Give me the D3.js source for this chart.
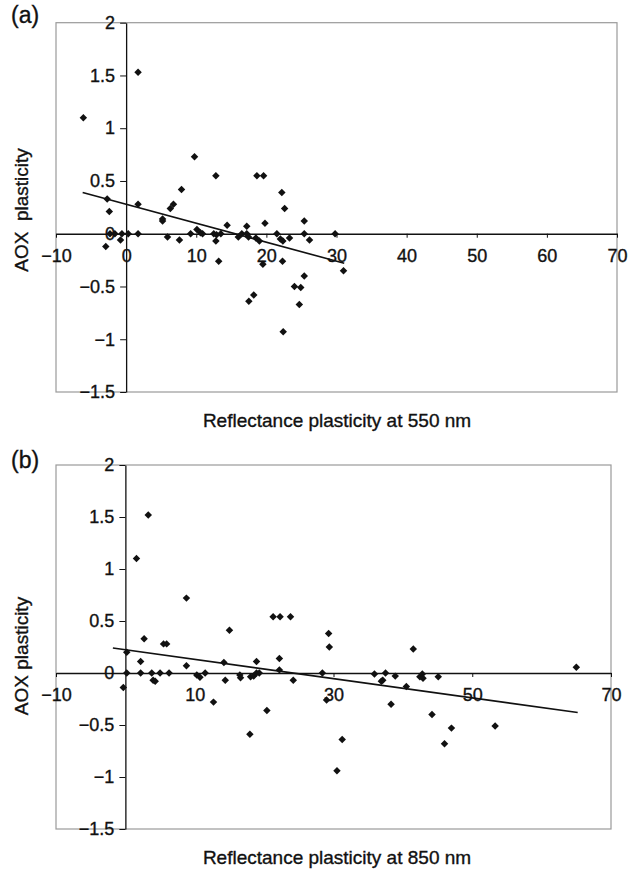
<!DOCTYPE html>
<html>
<head>
<meta charset="utf-8">
<script src="https://d3js.org/d3.v7.min.js"></script>
<style>
  body { margin: 0; background: #fff; }
  text { font-family: "Liberation Sans", Arial, sans-serif; }
</style>
</head>
<body>
<div class="vis"></div>

<script>
    // tick values
    var xTicks550 = [-10, 0, 10, 20, 30, 40, 50, 60, 70];
    var xTicks850 = [-10, 10, 30, 50, 70];
    var yTicks = [2, 1.5, 1, 0.5, 0, -0.5, -1, -1.5];

    // panel (a): reflectance plasticity at 550 nm vs AOX plasticity
    var refl550 = [-6.1, 1.7, -2.7, -2.4, 1.7, -2.3, -1.6, -0.6, 0.3, 1.7, -0.8, -2.9, 5.2, 5.2, 5.9, 6.3, 6.75, 7.9, 7.6, 9.75,
        9.2, 10.1, 10.6, 10.9, 12.8, 12.5, 12.9, 12.8, 13.5, 13.2, 14.4, 16.0, 16.5, 17.2, 17.2, 17.45, 18.65, 19.6, 18.5, 19.0,
        19.8, 19.5, 18.2, 17.5, 22.2, 22.6, 21.5, 22.0, 22.35, 23.3, 22.3, 22.4, 24.0, 24.9, 25.4, 24.7, 25.4, 25.4, 26.15, 29.8, 31.0];
    var aox550 = [1.1, 1.53, 0.33, 0.21, 0.28, 0, 0, 0, 0, 0, -0.06, -0.12, 0.14, 0.12, -0.03, 0.24, 0.28, 0.42, -0.06, 0.73,
        0, 0.04, 0.01, 0, 0.55, 0, -0.01, -0.07, 0, -0.26, 0.08, -0.03, 0, 0.07, 0, -0.03, 0.55, 0.55, -0.04, -0.07,
        0.1, -0.29, -0.58, -0.64, 0.39, 0.24, 0, -0.05, -0.07, -0.04, -0.26, -0.93, -0.5, -0.51, -0.4, -0.67, 0.12, 0, -0.06, 0, -0.35];
    var trend550 = [[-6.2, 0.39], [31.1, -0.28]];

    // panel (b): reflectance plasticity at 850 nm vs AOX plasticity
    var refl850 = [1.6, 3.3, 2.7, 0.2, 2.2, 0.2, 2.2, 3.8, 5.0, 6.3, 4.0, 4.3, -0.3, 5.5, 5.95, 8.8, 8.8, 10.3, 10.75, 11.5,
        15.0, 14.2, 14.4, 16.5, 16.6, 18.05, 18.5, 18.9, 18.9, 19.3, 21.3, 22.3, 23.8, 22.2, 22.2, 24.2, 12.7, 17.95, 20.4, 31.25,
        29.3, 29.4, 28.4, 29.0, 30.5, 35.9, 37.5, 37.1, 36.9, 38.9, 38.3, 40.5, 41.5, 42.45, 42.8, 42.9, 45.1, 44.2, 47.0, 46.0,
        53.3, 65.0];
    var aox850 = [1.1, 1.52, 0.33, 0.2, 0.11, 0, 0, 0, 0, 0, -0.07, -0.08, -0.14, 0.28, 0.28, 0.72, 0.07, -0.02, -0.04, 0,
        0.41, 0.1, -0.07, -0.02, -0.045, -0.035, -0.03, 0.11, 0, 0, 0.54, 0.54, 0.54, 0.14, 0.03, -0.07, -0.28, -0.59, -0.36, -0.64,
        0.38, 0.25, 0, -0.26, -0.94, -0.01, 0, -0.07, -0.08, -0.03, -0.30, -0.13, 0.23, -0.035, -0.01, -0.05, -0.035, -0.40, -0.53, -0.68,
        -0.51, 0.055];
    var trend850 = [[-1.8, 0.24], [65.2, -0.38]];

    var width = 635, height = 870;
    var ink = "#111";

    var svg = d3.select('.vis')
        .append("svg")
        .attr("width", width)
        .attr("height", height)
        .attr("viewBox", [0, 0, width, height]);

    var fmt = v => String(v).replace("-", "\u2212");

    // scanned look: text slightly heavier than regular weight
    function inkText(sel, size) {
        sel.attr("font-size", size)
            .attr("font-family", "Liberation Sans, Arial, sans-serif")
            .attr("fill", ink)
            .attr("stroke", ink)
            .attr("stroke-width", 0.35);
    }

    function drawPanel(p) {
        var x = d3.scaleLinear().domain([-10, 70]).range([p.left, p.right]);
        var y = d3.scaleLinear().domain([-1.5, 2]).range([p.bottom, p.top]);

        var g = svg.append("g");

        // gray plot frame
        g.append("rect")
            .attr("x", p.left).attr("y", p.top)
            .attr("width", p.right - p.left).attr("height", p.bottom - p.top)
            .attr("fill", "none").attr("stroke", "#9a9a9a").attr("stroke-width", 1.2);

        // x axis crossing at y = 0
        g.append("g")
            .attr("transform", `translate(0,${y(0)})`)
            .call(d3.axisBottom(x).tickValues(p.xTicks).tickSize(4).tickSizeOuter(0).tickFormat(fmt))
            .call(g => g.select(".domain").attr("stroke", ink).attr("stroke-width", 1.3))
            .call(g => g.selectAll(".tick line").attr("stroke", ink))
            .call(g => g.selectAll(".tick text")
                .attr("y", 28).attr("dy", null)
                .call(inkText, 18));

        // y axis crossing at x = 0
        g.append("g")
            .attr("transform", `translate(${x(0)},0)`)
            .call(d3.axisLeft(y).tickValues(yTicks).tickSize(6).tickSizeOuter(0).tickPadding(5).tickFormat(fmt))
            .call(g => g.select(".domain").attr("stroke", ink).attr("stroke-width", 1.3))
            .call(g => g.selectAll(".tick line").attr("stroke", ink))
            .call(g => g.selectAll(".tick text").call(inkText, 18));

        // trend line
        g.append("path")
            .datum(p.trend)
            .attr("d", d3.line().x(d => x(d[0])).y(d => y(d[1])))
            .attr("fill", "none")
            .attr("stroke", ink)
            .attr("stroke-width", 1.6);

        // diamond markers
        var pts = p.xs.map((v, i) => [v, p.ys[i]]);
        g.append("g")
            .selectAll("path")
            .data(pts)
            .join("path")
            .attr("d", d3.symbol(d3.symbolSquare, 28))
            .attr("transform", d => `translate(${x(d[0])},${y(d[1])}) rotate(45)`)
            .attr("fill", ink);

        // titles
        g.append("text")
            .attr("transform", `translate(${p.yTitleX},${p.yTitleY}) rotate(-90)`)
            .attr("text-anchor", "middle")
            .attr("dy", "0.35em")
            .style("white-space", "pre")
            .call(inkText, 19)
            .text(p.yTitle);

        g.append("text")
            .attr("x", 337)
            .attr("y", p.bottom + 35)
            .attr("text-anchor", "middle")
            .call(inkText, 19)
            .text(p.xTitle);

        g.append("text")
            .attr("x", 11)
            .attr("y", p.labelY)
            .call(inkText, 23)
            .text(p.label);
    }

    drawPanel({
        left: 56, right: 617, top: 22.7, bottom: 392,
        xTicks: xTicks550, xs: refl550, ys: aox550, trend: trend550,
        yTitle: "AOX  plasticity", yTitleX: 21, yTitleY: 210,
        xTitle: "Reflectance plasticity at 550 nm",
        label: "(a)", labelY: 23
    });

    drawPanel({
        left: 56, right: 611, top: 465, bottom: 829,
        xTicks: xTicks850, xs: refl850, ys: aox850, trend: trend850,
        yTitle: "AOX plasticity", yTitleX: 21, yTitleY: 656,
        xTitle: "Reflectance plasticity at 850 nm",
        label: "(b)", labelY: 468
    });
</script>
</body>
</html>
